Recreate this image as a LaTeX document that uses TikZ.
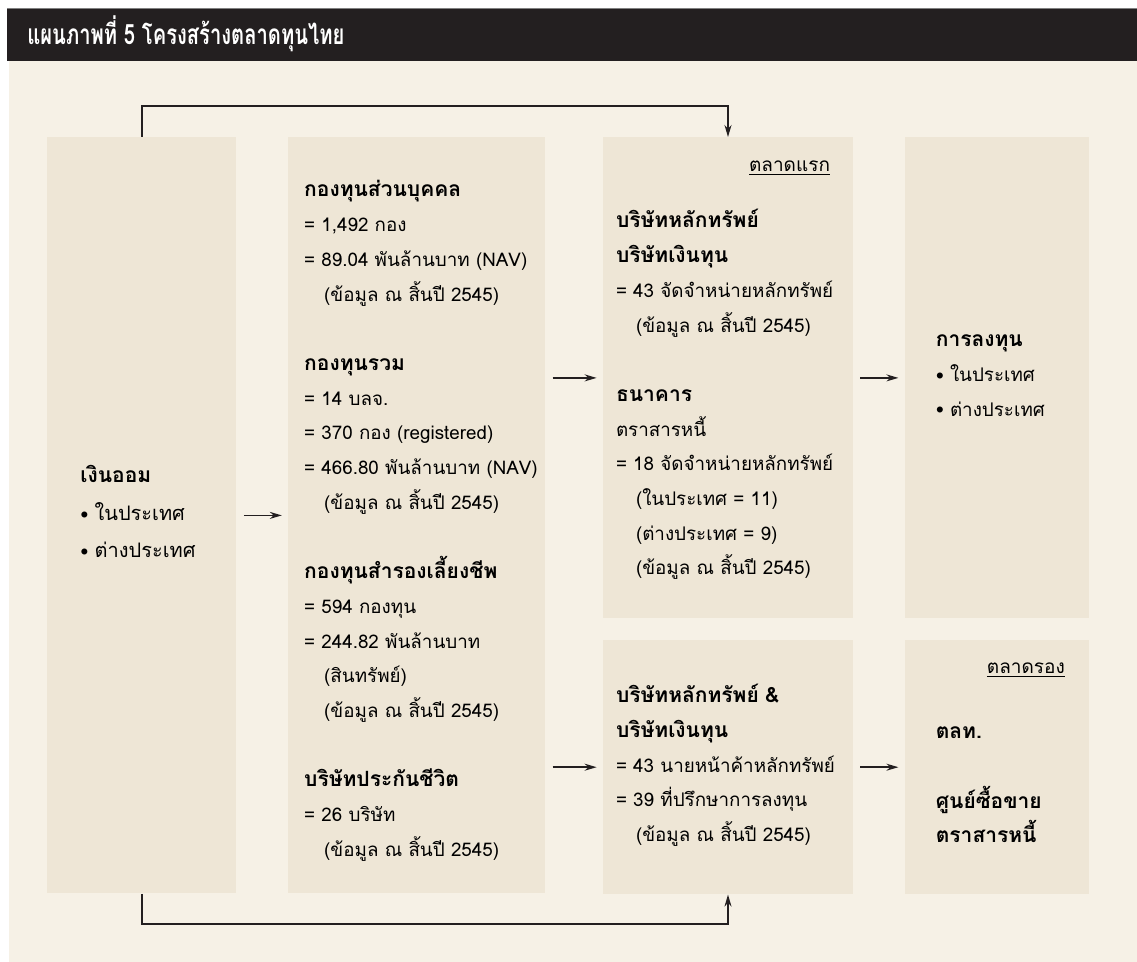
\documentclass[tikz,border=0pt]{standalone}
\usepackage{fontspec}
\setmainfont[Script=Thai]{Loma}
\newfontfamily\titlefont[Script=Thai, FakeStretch=0.72]{Loma}
\usetikzlibrary{positioning, calc, arrows.meta}
\definecolor{sand}{RGB}{238,230,214}
\definecolor{paper}{RGB}{246,241,230}
\definecolor{ink}{RGB}{35,31,32}
\newcommand{\ind}{\hspace*{10pt}}
\newcommand{\hd}[1]{{\fontsize{10.5}{17.35}\selectfont\bfseries #1}}
\newcommand{\dotitem}{\raisebox{1.2pt}{$\scriptstyle\bullet$}\hspace{3pt}}

\begin{document}
\begin{tikzpicture}[x=0.5pt, y=-0.5pt,
    box/.style={fill=sand, inner sep=0pt},
    txt/.style={inner sep=0pt, text width=140pt, align=left, font=\fontsize{9.4}{17.35}\selectfont},
    tag/.style={inner sep=0pt, font=\fontsize{9.5}{14}\selectfont},
    flow/.style={->, line width=0.75pt, draw=ink, shorten <=3.5pt, shorten >=3pt},
    loop/.style={->, line width=0.75pt, draw=ink},
    >={Stealth[length=6pt, width=3.5pt]}]
    \useasboundingbox (0,0) rectangle (1137,962);
    \fill[paper] (9,61) rectangle (1137,962);
    \fill[ink] (7,8) rectangle (1137,61);
    \draw[gray, line width=0.5pt] (7,8.5) -- (1137,8.5);
    \node[anchor=base west, inner sep=0pt, text=white, font=\titlefont\fontsize{14}{16}\selectfont\bfseries] (title) at (27,45) {แผนภาพที่ 5 โครงสร้างตลาดทุนไทย};

    % boxes
    \draw node[box, minimum width=94.5pt, minimum height=378pt, anchor=north west] (sav) at (47,137) {};
    \draw node[box, minimum width=128.5pt, minimum height=378pt, right=25.5pt of sav] (fund) {};
    \draw node[box, minimum width=125pt, minimum height=240.5pt, right=28.5pt of fund.north east, anchor=north west] (prim) {};
    \draw node[box, minimum width=125pt, minimum height=127pt, below=10.5pt of prim] (sec) {};
    \draw node[box, minimum width=92pt, minimum height=240.5pt, right=25.5pt of prim] (inv) {};
    \draw node[box, minimum width=92pt, minimum height=127pt, right=25.5pt of sec] (mkt) {};

    % texts
    \draw node[txt, font=\fontsize{10}{18.75}\selectfont, below right=173pt and 16.5pt of sav.north west, anchor=base west] (tsav)
        {\hd{เงินออม}\\\dotitem ในประเทศ\\\dotitem ต่างประเทศ};
    \draw node[txt, below right=30pt and 8pt of fund.north west, anchor=base west] (tfund)
        {\hd{กองทุนส่วนบุคคล}\\= 1,492 กอง\\= 89.04 พันล้านบาท (NAV)\\\ind(ข้อมูล ณ สิ้นปี 2545)\\[17.35pt]
         \hd{กองทุนรวม}\\= 14 บลจ.\\= 370 กอง (registered)\\= 466.80 พันล้านบาท (NAV)\\\ind(ข้อมูล ณ สิ้นปี 2545)\\[17.35pt]
         \hd{กองทุนสำรองเลี้ยงชีพ}\\= 594 กองทุน\\= 244.82 พันล้านบาท\\\ind(สินทรัพย์)\\\ind(ข้อมูล ณ สิ้นปี 2545)\\[17.35pt]
         \hd{บริษัทประกันชีวิต}\\= 26 บริษัท\\\ind(ข้อมูล ณ สิ้นปี 2545)};
    \draw node[tag, below left=17.5pt and 11.5pt of prim.north east, anchor=base east] (lprim) {\underline{ตลาดแรก}};
    \draw node[txt, below right=45.5pt and 6.5pt of prim.north west, anchor=base west] (tprim)
        {\hd{บริษัทหลักทรัพย์}\\\hd{บริษัทเงินทุน}\\= 43 จัดจำหน่ายหลักทรัพย์\\\ind(ข้อมูล ณ สิ้นปี 2545)\\[17.35pt]
         \hd{ธนาคาร}\\ตราสารหนี้\\= 18 จัดจำหน่ายหลักทรัพย์\\\ind(ในประเทศ = 11)\\\ind(ต่างประเทศ = 9)\\\ind(ข้อมูล ณ สิ้นปี 2545)};
    \draw node[txt, below right=31.5pt and 6.5pt of sec.north west, anchor=base west] (tsec)
        {\hd{บริษัทหลักทรัพย์ \&}\\\hd{บริษัทเงินทุน}\\= 43 นายหน้าค้าหลักทรัพย์\\= 39 ที่ปรึกษาการลงทุน\\\ind(ข้อมูล ณ สิ้นปี 2545)};
    \draw node[txt, below right=105pt and 15.5pt of inv.north west, anchor=base west] (tinv)
        {\hd{การลงทุน}\\\dotitem ในประเทศ\\\dotitem ต่างประเทศ};
    \draw node[tag, below left=17pt and 12pt of mkt.north east, anchor=base east] (lmkt) {\underline{ตลาดรอง}};
    \draw node[txt, below right=49.5pt and 15.5pt of mkt.north west, anchor=base west] (tmkt)
        {\hd{ตลท.}\\[17.35pt]\hd{ศูนย์ซื้อขาย}\\\hd{ตราสารหนี้}};

    % connectors
    \draw[flow] (sav) -- (fund);
    \draw[flow] (fund.east |- prim.west) -- (prim.west);
    \draw[flow] (fund.east |- sec.west) -- (sec.west);
    \draw[flow] (prim) -- (inv);
    \draw[flow] (sec) -- (mkt);
    \draw[loop] (sav.north) -- ++(0,-31) -| (prim.north);
    \draw[loop] (sav.south) -- ++(0,30) -| (sec.south);
\end{tikzpicture}
\end{document}
